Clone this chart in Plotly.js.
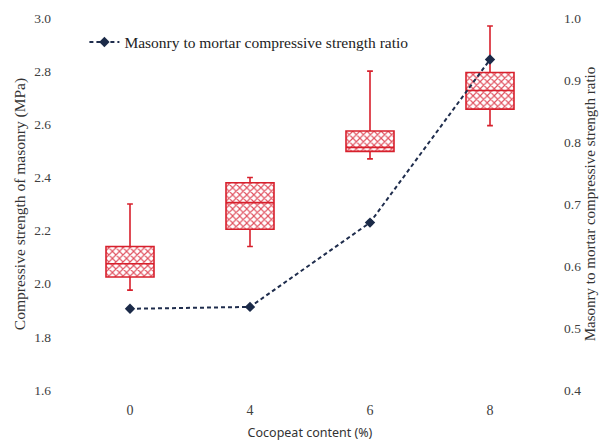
<!DOCTYPE html>
<html>
<head>
<meta charset="utf-8">
<script src="https://cdn.plot.ly/plotly-3.0.1.min.js"></script>
<style>html,body{margin:0;padding:0;background:#fff;}</style>
</head>
<body>
<div id="chart" style="width:606px;height:441px;"></div>
<script>
// Data
const categories = ['0', '4', '6', '8'];
const upperWhisker = [2.30, 2.40, 2.80, 2.97];
const q3 = [2.14, 2.38, 2.575, 2.795];
const medians = [2.075, 2.305, 2.513, 2.727];
const q1 = [2.025, 2.205, 2.498, 2.657];
const lowerWhisker = [1.976, 2.14, 2.47, 2.595];
const strengthRatio = [0.531, 0.534, 0.670, 0.933];
const ratioName = 'Masonry to mortar compressive strength ratio';

const red = '#d7202c';
const serif = 'Liberation Serif, DejaVu Serif, serif';

const boxHeights = q3.map((v, i) => v - q1[i]);

const traces = [
  {
    type: 'bar',
    x: categories,
    y: boxHeights,
    base: q1,
    width: 0.4,
    marker: {
      color: '#fbe3e5',
      line: {width: 0},
      pattern: {shape: 'x', fgcolor: '#e0505e', bgcolor: '#ffffff', size: 5, solidity: 0.4}
    },
    showlegend: false,
    hoverinfo: 'skip'
  },
  {
    type: 'box',
    x: categories,
    q1: q1,
    median: medians,
    q3: q3,
    lowerfence: lowerWhisker,
    upperfence: upperWhisker,
    width: 0.4,
    whiskerwidth: 0.12,
    fillcolor: 'rgba(0,0,0,0)',
    line: {color: red, width: 1.6},
    marker: {color: red},
    boxpoints: false,
    showlegend: false
  },
  {
    type: 'scatter',
    mode: 'lines+markers',
    x: categories,
    y: strengthRatio,
    yaxis: 'y2',
    name: ratioName,
    line: {color: '#1f2d4d', width: 2, dash: '4px,3px'},
    marker: {symbol: 'diamond', size: 8, color: '#1b2a48'}
  }
];

const layout = {
  width: 606,
  height: 441,
  margin: {l: 70, r: 56, t: 18, b: 51},
  paper_bgcolor: '#ffffff',
  plot_bgcolor: '#ffffff',
  font: {family: serif, size: 13, color: '#404040'},
  xaxis: {
    type: 'category',
    categoryorder: 'array',
    categoryarray: categories,
    showgrid: false,
    showline: false,
    zeroline: false,
    ticks: '',
    ticklabelstandoff: 10,
    tickfont: {family: serif, size: 14, color: '#404040'},
    title: {text: 'Cocopeat content (%)', font: {family: 'Noto Sans, sans-serif', size: 12.5, color: '#333333'}, standoff: 12}
  },
  yaxis: {
    range: [1.6, 3.0],
    dtick: 0.2,
    tickformat: '.1f',
    showgrid: false,
    zeroline: false,
    showline: false,
    ticks: '',
    ticklabelstandoff: 18,
    tickfont: {family: serif, size: 13.5, color: '#404040'},
    title: {text: 'Compressive strength of masonry (MPa)', font: {family: serif, size: 15.5, color: '#333333'}, standoff: 4}
  },
  yaxis2: {
    overlaying: 'y',
    side: 'right',
    range: [0.4, 1.0],
    dtick: 0.1,
    tickformat: '.1f',
    showgrid: false,
    zeroline: false,
    showline: false,
    ticks: '',
    ticklabelstandoff: 13,
    tickfont: {family: serif, size: 13.5, color: '#404040'},
    title: {text: ratioName, font: {family: serif, size: 15, color: '#333333'}, standoff: 4}
  },
  legend: {
    x: 0.03,
    y: 0.98,
    xanchor: 'left',
    yanchor: 'top',
    bgcolor: 'rgba(255,255,255,0)',
    font: {family: serif, size: 15.5, color: '#222222'}
  },
  showlegend: true
};

Plotly.newPlot('chart', traces, layout, {displayModeBar: false, staticPlot: true});
</script>
</body>
</html>
